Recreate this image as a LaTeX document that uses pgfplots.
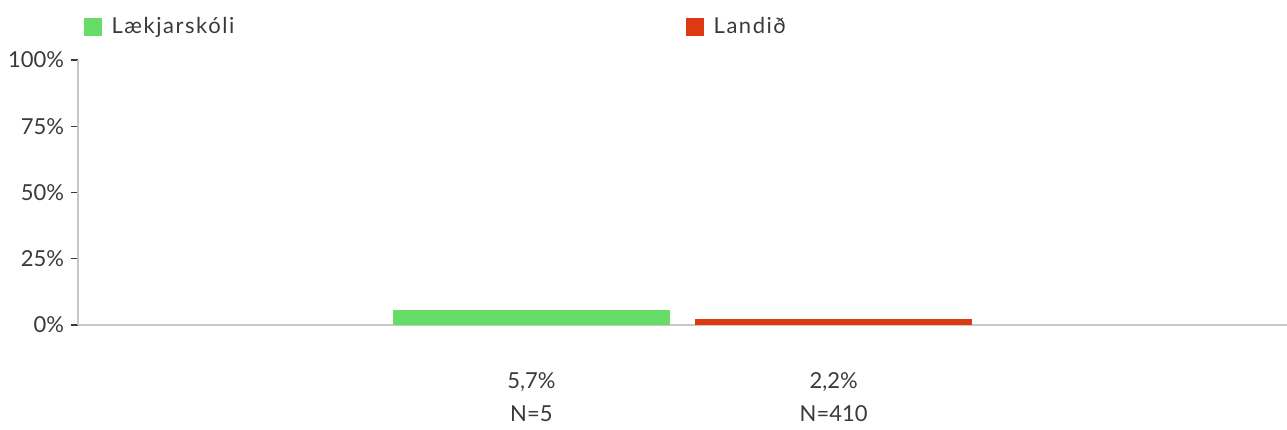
\documentclass[border=0pt]{standalone}
\usepackage{fontspec}
\setmainfont{Lato}
\newfontfamily\legfont[LetterSpace=7]{Lato}
\usepackage{pgfplots}
\pgfplotsset{compat=1.18}
\definecolor{grn}{HTML}{66DD66}
\definecolor{rd}{HTML}{DD3913}
\definecolor{axg}{HTML}{C8C8C8}
\definecolor{txt}{HTML}{3A3A3A}
\begin{document}
\fontsize{16.5pt}{24.75pt}\selectfont
\begin{tikzpicture}
\useasboundingbox (0,0) rectangle (965.25pt,321.75pt);
\begin{axis}[
  at={(58.5pt,78pt)}, anchor=south west,
  scale only axis, width=906.75pt, height=198.75pt,
  xmin=0, xmax=4, ymin=0, ymax=100,
  axis x line=bottom, axis y line=left,
  axis line style={-, draw=axg, line width=1.5pt},
  ytick={0,25,50,75,100},
  yticklabel={\pgfmathprintnumber{\tick}\%},
  /pgf/number format/assume math mode=true,
  ytick pos=left, ytick align=outside,
  ytick style={draw=txt, line width=0.8pt, /pgfplots/major tick length=5pt},
  xtick style={draw=none, /pgfplots/major tick length=0pt},
  xtick={1.5,2.5},
  xticklabels={{5,7\%\\N=5},{2,2\%\\N=410}},
  xticklabel style={align=center, yshift=-26pt, text=txt, font=\fontsize{16.5pt}{24.75pt}\selectfont},
  yticklabel style={text=txt, font=\fontsize{16.5pt}{20pt}\selectfont, xshift=-0.5pt},
  ybar, bar width=0.915, bar shift=0pt,
  legend columns=2,
  legend style={draw=none, fill=none, at={(0,1)}, anchor=west, xshift=4.5pt, yshift=24.75pt,
    font=\legfont\fontsize{16.5pt}{20pt}\selectfont, text=txt, inner sep=0pt,
    /tikz/every odd column/.append style={column sep=5pt},
    /tikz/every even column/.append style={column sep=337pt}},
  legend image code/.code={\fill[#1] (0pt,-6.75pt) rectangle (13.5pt,6.75pt);},
]
\addplot[fill=grn, draw=none] coordinates {(1.5,5.7)};
\addlegendentry{Lækjarskóli}
\addplot[fill=rd, draw=none] coordinates {(2.5,2.2)};
\addlegendentry{Landið}
\end{axis}
\end{tikzpicture}
\end{document}
